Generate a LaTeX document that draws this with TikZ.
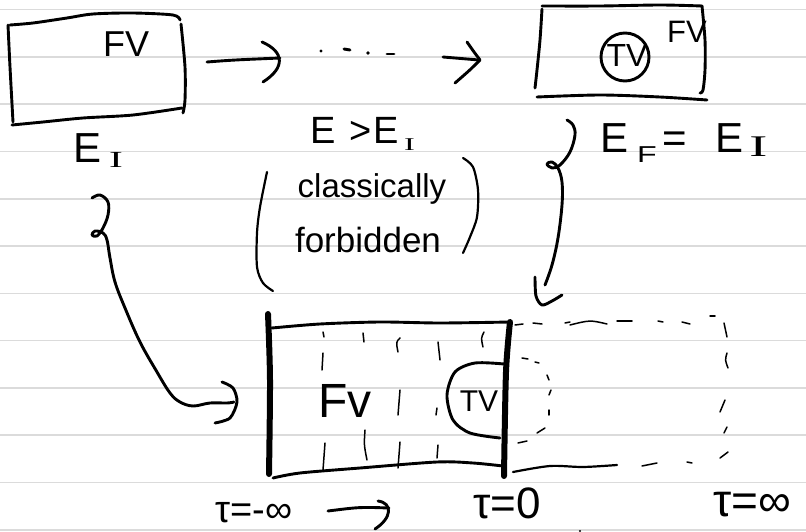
\documentclass[tikz,border=0pt]{standalone}
\usepackage{fontspec}
\setmainfont{Liberation Sans}
\newfontfamily\serifI{Liberation Serif}
\newcommand{\fsz}[1]{\fontsize{#1}{#1}\selectfont}
\newcommand{\subI}[3]{\raisebox{#1}{\scalebox{#3}[1]{\serifI\fsz{#2}I}}}
\begin{document}
\begin{tikzpicture}[x=1pt,y=-1pt,
 pen/.style={line width=2.9pt,line cap=round,line join=round},
 midpen/.style={line width=2.2pt,line cap=round,line join=round},
 thinpen/.style={line width=1.5pt,line cap=round},
 boldpen/.style={line width=6pt,line cap=round},
 rule/.style={line width=1.6pt,draw=black!14},
 lbl/.style={inner sep=0pt,anchor=base west},
 clbl/.style={inner sep=0pt,anchor=base}]
\useasboundingbox (0,0) rectangle (806,532);
\fill[white] (0,0) rectangle (806,532);
\foreach \k in {0,...,11} \draw[rule] (0,9.5+47.3*\k) -- (806,9.5+47.3*\k);

% ---------- top-left box ----------
\draw[pen] plot[smooth] coordinates {(10,25) (33,23) (67,18) (93,14) (133,13) (173,15) (180,20)};
\draw[pen] plot[smooth] coordinates {(181,24) (185,67) (185,100) (183,113)};
\draw[pen] plot[smooth] coordinates {(182,108) (133,115) (83,118) (43,122) (12,125)};
\draw[pen] plot[smooth] coordinates {(8,25) (10,67) (13,122)};
\node[lbl] (fvA) at (103,57) {\fsz{36}FV};
\node[lbl] (eI) at (73,163) {\fsz{42}E\kern8pt\subI{-5pt}{23}{1.8}};

% ---------- top arrows ----------
\coordinate (a1s) at (207,62); \coordinate (a1e) at (280,58);
\draw[pen] (a1s) .. controls (233,60) .. (a1e);
\draw[pen] (262,42) .. controls (285,52) and (285,68) .. (263,82);
\fill (321,51) circle (1.6);
\draw[pen] (344,49) -- (350,50);
\fill (368,53) circle (1.8);
\draw[pen] (387,54) -- (394,54);
\coordinate (a2s) at (443,57); \coordinate (a2e) at (479,60);
\draw[pen] (a2s) -- (a2e);
\draw[pen] (467,42) .. controls (474,52) .. (480,60) .. controls (470,70) .. (455,83);

% ---------- top-right box ----------
\draw[pen] plot[smooth] coordinates {(542,9) (540,40) (537,70) (535,88)};
\draw[pen] plot[smooth] coordinates {(542,6) (600,6) (660,5) (702,6)};
\draw[pen] plot[smooth] coordinates {(702,6) (705,40) (705,70) (703,90) (700,93)};
\draw[pen] plot[smooth] coordinates {(537,97) (600,95) (660,97) (707,100)};
\node[draw,circle,pen,minimum size=48pt,inner sep=0pt] (tvB) at (625,57) {};
\node[clbl] (tvBt) at (627,67) {\fsz{32}TV};
\node[lbl] (fvB) at (667,43) {\fsz{31}FV};
\node[lbl] (eFI) at (600,153) {\fsz{42}E\kern9pt\raisebox{-10pt}{\scalebox{1.4}[1]{\fsz{23}F}}\kern6pt=\kern28pt E\kern6pt\subI{-4pt}{30}{1.8}};

% ---------- middle text ----------
\node[lbl] (eGt) at (310,143) {\fsz{38}E\kern14pt>\kern2pt E\kern5pt\subI{-7pt}{18}{1.8}};
\node[clbl] (classic) at (372,197) {\fsz{33}classically};
\node[clbl] (forbid) at (368,252) {\fsz{35}forbidden};
\draw[midpen] plot[smooth] coordinates {(267,172) (260,207) (257,233) (257,267) (263,283) (273,291)};
\draw[midpen] plot[smooth] coordinates {(463,158) (473,167) (478,190) (477,217) (470,237) (463,253)};

% ---------- connector from E_I to bottom box ----------
\draw[pen] plot[smooth,tension=0.6] coordinates {(92,198) (100,195) (108,202) (108,215) (103,228) (97,236) (92,235) (95,231) (103,233) (107,240) (110,258) (115,282) (125,308) (140,342) (157,372) (170,393) (180,402) (193,406) (210,403) (227,403) (234,402)};
\draw[pen] plot[smooth] coordinates {(222,382) (233,388) (237,402) (230,418) (215,423)};

% ---------- connector from top-right box down ----------
\draw[pen] plot[smooth,tension=0.6] coordinates {(567,120) (573,125) (575,135) (570,152) (560,165) (552,168) (547,164) (552,162) (558,168) (562,182) (562,205) (558,238) (552,265) (545,285)};
\draw[pen] plot[smooth] coordinates {(535,277) (536,296) (542,305) (552,301) (562,295)};

% ---------- bottom box ----------
\draw[boldpen] plot[smooth] coordinates {(268,314) (270,380) (269,474)};
\draw[boldpen] plot[smooth] coordinates {(510,322) (506,372) (504,476)};
\draw[pen] plot[smooth] coordinates {(272,328) (320,324) (380,322) (440,323) (510,322)};
\draw[pen] plot[smooth] coordinates {(273,478) (300,473) (360,468) (437,462) (473,463) (503,466)};
\draw[thinpen] (323,332) -- (324,337);
\draw[thinpen] (323,353) -- (322,370);
\draw[thinpen] (325,443) -- (323,470);
\draw[thinpen] (363,333) -- (364,342);
\draw[thinpen] (365,430) .. controls (364,445) .. (367,460);
\draw[thinpen] (400,338) .. controls (396,342) .. (398,352);
\draw[thinpen] (400,390) -- (398,415);
\draw[thinpen] (400,442) -- (398,468);
\draw[thinpen] (438,342) -- (440,360);
\draw[thinpen] (437,408) -- (436,415);
\draw[thinpen] (438,445) -- (437,458);
\draw[thinpen] (484,332) .. controls (481,338) .. (483,347);
\node[lbl] (fvC) at (318,417) {\fsz{48}Fv};
\draw[pen] plot[smooth] coordinates {(504,364) (475,363) (455,372) (447,395) (453,420) (470,433) (500,438)};
\node[clbl] (tvC) at (479,411) {\fsz{30}TV};

% ---------- dashed extension ----------
\draw[thinpen] (515,325) -- (523,324);
\draw[thinpen] (533,323) -- (542,324);
\draw[thinpen] (565,323) -- (570,322);
\draw[thinpen] (570,325) .. controls (590,320) .. (607,324);
\draw[thinpen] (617,321) -- (632,321);
\draw[thinpen] (658,321) -- (663,322);
\draw[thinpen] (682,322) -- (690,324);
\draw[thinpen] (710,316) -- (715,316);
\draw[thinpen] (724,323) -- (727,337);
\draw[thinpen] (727,353) .. controls (725,360) .. (728,368);
\draw[thinpen] (725,400) -- (720,412);
\draw[thinpen] (727,427) -- (724,433);
\draw[thinpen] (720,458) -- (728,452);
\draw[midpen] plot[smooth] coordinates {(513,472) (550,466) (583,467) (617,465)};
\draw[thinpen] (642,466) -- (657,463);
\draw[thinpen] (687,462) -- (692,463);
\draw[thinpen] (522,358) -- (528,359);
\draw[thinpen] (535,362) -- (539,363);
\draw[thinpen] (547,375) -- (549,380);
\draw[thinpen] (551,390) -- (549,395);
\draw[thinpen] (549,410) -- (549,415);
\draw[thinpen] (537,433) -- (545,428);
\draw[thinpen] (518,443) -- (527,441);

% ---------- bottom labels ----------
\node[lbl] (tauA) at (215,522) {\fsz{38}τ=-∞};
\coordinate (a3s) at (328,511); \coordinate (a3e) at (389,508);
\draw[pen] (a3s) .. controls (360,507) .. (a3e);
\draw[pen] (378,501) .. controls (393,503) and (392,518) .. (375,529);
\node[lbl] (tauB) at (473,518) {\fsz{44}τ=0};
\node[lbl] (tauC) at (713,516) {\fsz{46}τ=∞};
\fill (580,531) circle (1.2);
\end{tikzpicture}
\end{document}
